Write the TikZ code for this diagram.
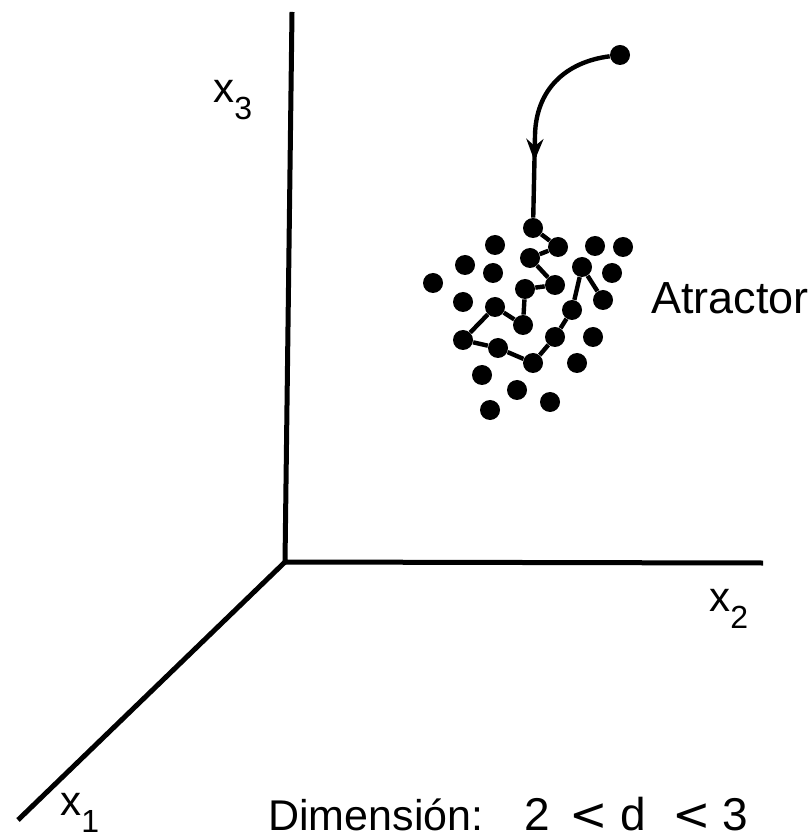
\documentclass[tikz,border=0pt]{standalone}
\usepackage{fontspec}
\setmainfont{Liberation Sans}
\newfontfamily\symfont{DejaVu Sans}
\usetikzlibrary{arrows.meta,decorations.markings}

\newcommand{\axisname}[1]{x\raisebox{-8.5pt}{\fontsize{16pt}{16pt}\selectfont #1}}
\newcommand{\bigless}{{\symfont <}}

\begin{document}
\begin{tikzpicture}[
    x=0.5pt, y=-0.5pt,
    axis/.style={line width=2.5pt},
    dot/.style={circle, fill=black, inner sep=0pt, minimum size=10pt},
    orbit/.style={line width=2.2pt},
    inflow/.style={line width=2.2pt, postaction=decorate,
                   decoration={markings, mark=at position 0.72 with
                   {\arrow{Stealth[length=11pt, width=8.5pt]}}}},
    axistext/.style={font=\fontsize{21pt}{21pt}\selectfont, inner sep=0pt, anchor=base west},
    notetext/.style={font=\fontsize{#1}{#1}\selectfont, inner sep=0pt, anchor=base west},
]
\useasboundingbox (0,0) rectangle (811,838);

% Axes
\coordinate (origin) at (285,562);
\coordinate (x3end) at (292,12);
\coordinate (x2end) at (763,563);
\coordinate (x1end) at (18,820);
\draw[axis] (x3end) -- (origin) -- (x2end);
\draw[axis] (origin) -- (x1end);

% Axis labels
\node[axistext] (x3lab) at (213,103) {\axisname{3}};
\node[axistext] (x2lab) at (709,611) {\axisname{2}};
\node[axistext] (x1lab) at (60,815) {\axisname{1}};

% Attractor points
\foreach \name/\px/\py in {
    a/533/228, b/558/247, c/495/245, d/595/246, e/623/247,
    f/530/258, g/465/265, h/493/273, i/582/267, j/612/273,
    k/433/283, l/555/285, m/525/289, n/463/302, o/603/300,
    p/495/307, q/572/310, r/523/325, s/463/340, t/593/337,
    u/555/337, v/498/348, w/533/363, xx/577/363, y/482/375,
    z/517/390, aa/550/402, ab/490/410}
    \node[dot] (\name) at (\px,\py) {};

% Start point and path into the attractor
\node[dot] (start) at (620,55) {};
\coordinate (bend) at (535,135);
\draw[inflow] (start) .. controls (565,62) and (536,90) .. (bend) -- (a);

% Orbit inside the attractor
\draw[orbit] (a) -- (b) -- (f) -- (l) -- (m) -- (r) -- (p) -- (s)
    -- (v) -- (w) -- (u) -- (q) -- (i) -- (o);

% Texts
\node[notetext=22.5pt] (attlab) at (651,314) {Atractor};
\node[notetext=21.5pt] (dimlab) at (268,830) {Dimensión:};
\node[notetext=23pt] (dimval) at (524,830)
    {2\hspace{10pt}\bigless\hspace{6pt}d\hspace{13pt}\bigless\hspace{6pt}3};

\end{tikzpicture}
\end{document}
